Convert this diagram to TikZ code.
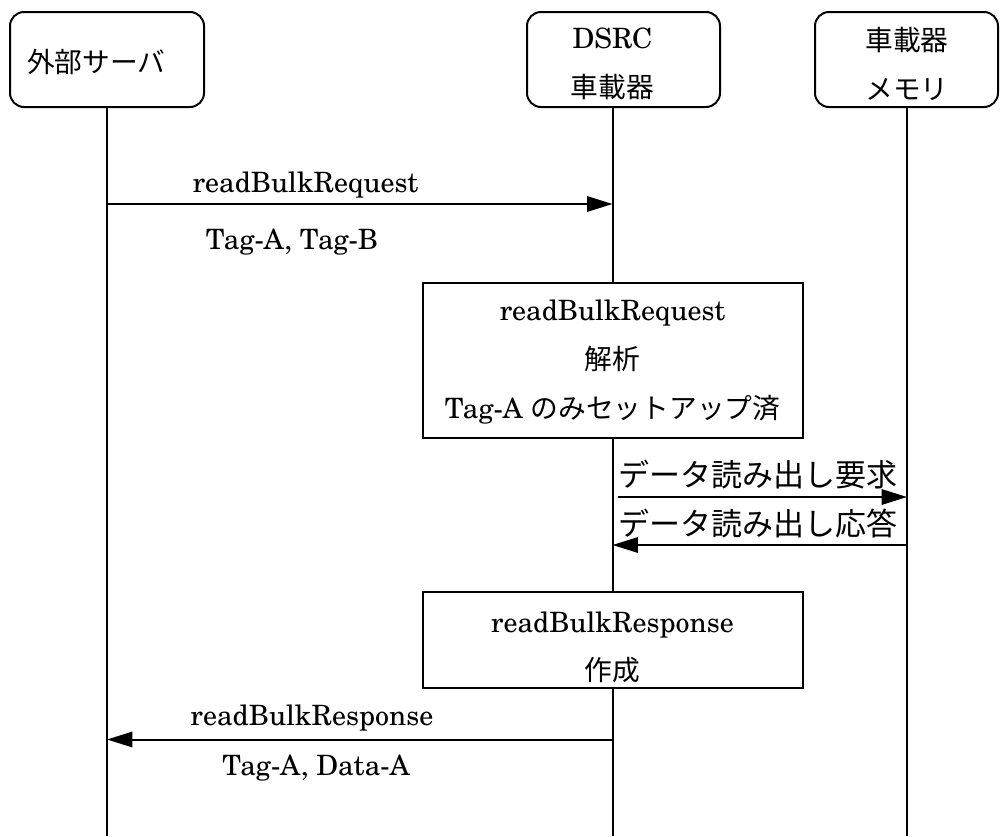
\documentclass[tikz,border=0pt]{standalone}
\usepackage{fontspec}
\setmainfont{TeX Gyre Schola}
\newfontfamily\jp{Noto Sans CJK JP}[Scale=0.99]
\usetikzlibrary{arrows.meta}
\begin{document}
\begin{tikzpicture}[x=0.75pt,y=-0.75pt,
  every node/.style={font=\fontsize{21}{36.4}\selectfont, inner sep=0pt, outer sep=0pt},
  actor/.style={draw, line width=1.5pt, rounded corners=10.5pt, minimum height=71.25pt},
  proc/.style={draw, line width=1.5pt, fill=white, minimum width=285pt},
  life/.style={line width=1.5pt},
  msg/.style={line width=1.5pt, -{Triangle[length=19pt,width=11.5pt]}},
  txt/.style={align=center},
  biglabel/.style={font=\fontsize{23.5}{30}\selectfont\jp}]
\useasboundingbox (0,0) rectangle (1000,836);

% actors
\node[actor, minimum width=145.5pt] (srv) at (107,59.5) {};
\node[actor, minimum width=144.75pt] (dsrc) at (623.5,59.5) {};
\node[actor, minimum width=137.25pt] (mem) at (906.5,59.5) {};
\node[anchor=west] (srvT) at (27,62) {\jp 外部サーバ};
\node[txt] (dsrcT) at (612.5,64) {DSRC\\{\jp 車載器}};
\node[txt] (memT) at (907,64) {{\jp 車載器}\\{\jp メモリ}};

% lifeline ends
\coordinate (srvEnd) at (107,836);
\coordinate (dsrcEnd) at (612.5,836);
\coordinate (memEnd) at (906.5,836);

% process boxes
\node[proc, minimum height=116.25pt] (p1) at (612.5,360.5) {};
\node[proc, minimum height=72pt] (p2) at (612.5,640) {};
\node[txt] (p1T) at (612.5,362) {readBulkRequest\\{\jp 解析}\\Tag-A {\jp のみセットアップ済}};
\node[txt] (p2T) at (612.5,647.5) {readBulkResponse\\{\jp 作成}};

% lifelines
\draw[life] (srv.south) -- (srvEnd);
\draw[life] (dsrc.south -| dsrcEnd) -- (p1.north);
\draw[life] (p1.south) -- (p2.north);
\draw[life] (p2.south) -- (dsrcEnd);
\draw[life] (mem.south) -- (memEnd);

% message 1
\coordinate (m1s) at (107,204);
\coordinate (m1e) at (612.5,204);
\draw[msg] (m1s) -- (m1e);
\node (m1a) at (305.5,185) {readBulkRequest};
\node (m1b) at (292,242) {Tag-A, Tag-B};

% message 2
\coordinate (m2s) at (618,497);
\coordinate (m2e) at (907,497);
\draw[msg] (m2s) -- (m2e);
\node[biglabel] (m2a) at (758,475) {データ読み出し要求};

% message 3
\coordinate (m3s) at (907,545);
\coordinate (m3e) at (612.5,545);
\draw[msg] (m3s) -- (m3e);
\node[biglabel] (m3a) at (758,523) {データ読み出し応答};

% message 4
\coordinate (m4s) at (612.5,739.5);
\coordinate (m4e) at (107,739.5);
\draw[msg] (m4s) -- (m4e);
\node (m4a) at (312,718.5) {readBulkResponse};
\node (m4b) at (316,768) {Tag-A, Data-A};
\end{tikzpicture}
\end{document}
